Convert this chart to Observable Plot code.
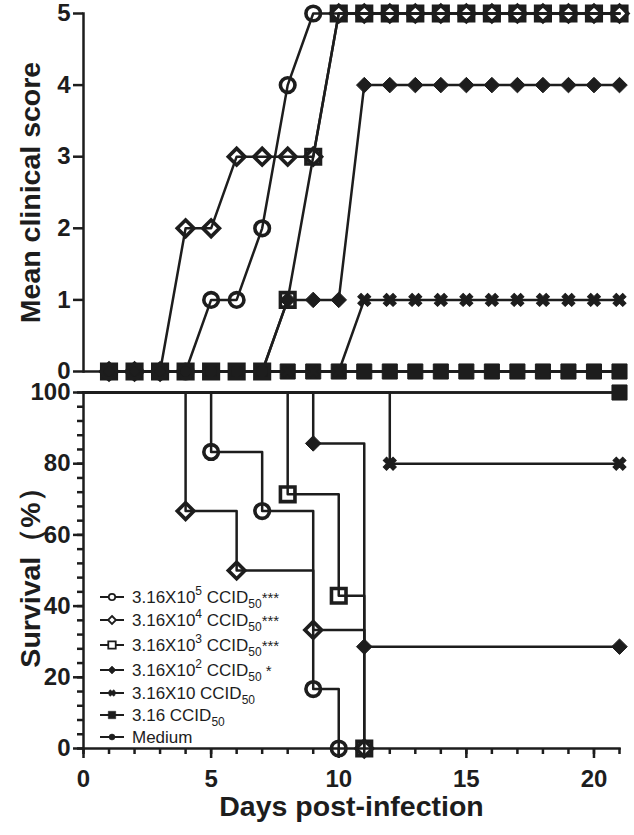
<!DOCTYPE html>
<html>
<head>
<meta charset="utf-8">
<script src="https://cdn.jsdelivr.net/npm/d3@7"></script>
<script src="https://cdn.jsdelivr.net/npm/@observablehq/plot@0.6"></script>
<style>
  html, body { margin: 0; padding: 0; background: #fff; }
  #chart svg { display: block; }
</style>
</head>
<body>
<div id="chart"></div>
<script>
// ---------------- data ----------------
const groups = ["3.16X10^5 CCID50", "3.16X10^4 CCID50", "3.16X10^3 CCID50", "3.16X10^2 CCID50", "3.16X10 CCID50", "3.16 CCID50", "Medium"];

// Mean clinical score, days 1..21
const days = [1,2,3,4,5,6,7,8,9,10,11,12,13,14,15,16,17,18,19,20,21];
const score1e5 = [0,0,0,0,1,1,2,4,5,5,5,5,5,5,5,5,5,5,5,5,5];
const score1e4 = [0,0,0,2,2,3,3,3,3,5,5,5,5,5,5,5,5,5,5,5,5];
const score1e3 = [0,0,0,0,0,0,0,1,3,5,5,5,5,5,5,5,5,5,5,5,5];
const score1e2 = [0,0,0,0,0,0,0,1,1,1,4,4,4,4,4,4,4,4,4,4,4];
const score1e1 = [0,0,0,0,0,0,0,0,0,0,1,1,1,1,1,1,1,1,1,1,1];
const score1e0 = [0,0,0,0,0,0,0,0,0,0,0,0,0,0,0,0,0,0,0,0,0];
const scoreMed = [0,0,0,0,0,0,0,0,0,0,0,0,0,0,0,0,0,0,0,0,0];

// Survival (%), Kaplan-Meier steps
const survDays1e5 = [0,5,7,9,10];   const surv1e5 = [100,83.3,66.7,16.7,0];
const survDays1e4 = [0,4,6,9,11];   const surv1e4 = [100,66.7,50,33.3,0];
const survDays1e3 = [0,8,10,11];    const surv1e3 = [100,71.4,42.9,0];
const survDays1e2 = [0,9,11,21];    const surv1e2 = [100,85.7,28.6,28.6];
const survDays1e1 = [0,12,21];      const surv1e1 = [100,80,80];
const survDays1e0 = [0,21];         const surv1e0 = [100,100];
const survDaysMed = [0,21];         const survMed = [100,100];

// ticks
const scoreTicks = [0,1,2,3,4,5];
const survTicks = [0,20,40,60,80,100];
const survMinorTicks = [0,4,8,12,16,20,24,28,32,36,40,44,48,52,56,60,64,68,72,76,80,84,88,92,96,100];
const dayTicks = [0,5,10,15,20];
const dayMinorTicks = [0,1,2,3,4,5,6,7,8,9,10,11,12,13,14,15,16,17,18,19,20,21];

// legend text pieces
const legendBase = ["3.16X10", "3.16X10", "3.16X10", "3.16X10", "3.16X10 CCID", "3.16 CCID", "Medium"];
const legendSup  = ["5", "4", "3", "2", "", "", ""];
const legendSub  = ["50", "50", "50", "50", "50", "50", ""];
const legendStar = ["***", "***", "***", " *", "", "", ""];

// ---------------- styling ----------------
const ink = "#1d1d1d";
const symbols = ["circle", "diamond2", "square", "diamond2", "cross", "square", "circle"];
const fills   = ["none", "none", "none", ink, ink, ink, ink];
const radii   = [7.3, 7.5, 8.2, 7, 5.8, 8.5, 4];
const rotates = [0, 0, 0, 0, 45, 0, 0];
const font = "'Liberation Sans', Arial, Helvetica, sans-serif";

const scoreSeries = [score1e5, score1e4, score1e3, score1e2, score1e1, score1e0, scoreMed];
const survDaySeries = [survDays1e5, survDays1e4, survDays1e3, survDays1e2, survDays1e1, survDays1e0, survDaysMed];
const survSeries = [surv1e5, surv1e4, surv1e3, surv1e2, surv1e1, surv1e0, survMed];

const scoreRows = groups.map((g, i) => days.map((d, j) => ({group: g, gi: i, day: d, value: scoreSeries[i][j]})));
const survRows = groups.map((g, i) => survDaySeries[i].map((d, j) => ({group: g, gi: i, day: d, value: survSeries[i][j]})));

function dotMarks(rowsList, filterFn) {
  const order = [6,5,4,3,2,1,0];
  return order.map(i => Plot.dot(rowsList[i].filter(filterFn), {
    x: "day", y: "value",
    symbol: symbols[i], r: radii[i], rotate: rotates[i],
    fill: fills[i],
    stroke: ink,
    strokeWidth: fills[i] === "none" ? 3.6 : 1
  }));
}

// ---------------- top: clinical score ----------------
const topPlot = Plot.plot({
  width: 634, height: 382,
  marginTop: 13, marginBottom: 11, marginLeft: 83, marginRight: 15,
  style: {fontFamily: font, fontSize: "24px", fontWeight: "bold", color: ink, background: "white", overflow: "visible"},
  x: {domain: [0, 21], axis: null},
  y: {domain: [0, 5], axis: null},
  marks: [
    Plot.ruleY([0], {stroke: ink, strokeWidth: 2.5}),
    Plot.frame({anchor: "left", stroke: ink, strokeWidth: 2.5}),
    Plot.axisY({ticks: scoreTicks, tickSize: 10, tickPadding: 3, tickFormat: d3.format("d"), strokeWidth: 2.5, label: null}),
    Plot.text(["Mean clinical score"], {text: d => d, frameAnchor: "left", textAnchor: "middle", dx: -53, rotate: -90, fontSize: 28.5, fontWeight: "bold", fill: ink}),
    ...[6,5,4,3,2,1,0].map(i => Plot.line(scoreRows[i], {x: "day", y: "value", stroke: ink, strokeWidth: 2.5})),
    ...dotMarks(scoreRows, () => true)
  ]
});

// ---------------- bottom: survival ----------------
const botPlot = Plot.plot({
  width: 634, height: 453,
  marginTop: 10, marginBottom: 87, marginLeft: 83, marginRight: 15,
  style: {fontFamily: font, fontSize: "24px", fontWeight: "bold", color: ink, background: "white", overflow: "visible"},
  x: {domain: [0, 21]},
  y: {domain: [0, 100]},
  marks: [
    Plot.frame({anchor: "left", stroke: ink, strokeWidth: 2.5}),
    Plot.frame({anchor: "bottom", stroke: ink, strokeWidth: 2.5}),
    Plot.axisY({ticks: survMinorTicks, tickSize: 6, strokeWidth: 2.5, fill: "none", label: null}),
    Plot.axisY({ticks: survTicks, tickSize: 10, tickPadding: 3, tickFormat: d3.format("d"), strokeWidth: 2.5, label: null}),
    Plot.axisX({ticks: dayMinorTicks, tickSize: 6, strokeWidth: 2.5, fill: "none", label: null}),
    Plot.axisX({ticks: dayTicks, tickSize: 10, tickPadding: 11, tickFormat: d3.format("d"), strokeWidth: 2.5, label: null}),
    Plot.text(["Survival（%）"], {text: d => d, frameAnchor: "left", textAnchor: "middle", dx: -53, rotate: -90, fontSize: 28.5, fontWeight: "bold", fill: ink}),
    Plot.text(["Days post-infection"], {text: d => d, frameAnchor: "bottom", textAnchor: "middle", dy: 67, fontSize: 28.5, fontWeight: "bold", fill: ink}),
    ...[6,5,4,3,2,1,0].map(i => Plot.line(survRows[i], {x: "day", y: "value", curve: "step-after", stroke: ink, strokeWidth: 2.5})),
    ...dotMarks(survRows, d => d.day > 0)
  ]
});

const chart = document.getElementById("chart");
chart.appendChild(topPlot);
chart.appendChild(botPlot);

// ---------------- legend (inside survival panel) ----------------
const legendRowY = [597, 620, 645, 670, 693, 715, 737].map(y => y - 382);
const lg = d3.select(botPlot).append("g").attr("class", "legend").attr("text-anchor", "start");
const legSizes = [3.2, 3.6, 4.2, 3.6, 3.0, 4.2, 3.0];
groups.forEach((g, i) => {
  const y = legendRowY[i];
  const row = lg.append("g");
  row.append("line").attr("x1", 100).attr("x2", 124).attr("y1", y).attr("y2", y)
    .attr("stroke", ink).attr("stroke-width", 2);
  const sym = {circle: d3.symbolCircle, diamond2: d3.symbolDiamond2, square: d3.symbolSquare, cross: d3.symbolCross}[symbols[i]];
  const r = legSizes[i];
  row.append("path")
    .attr("d", d3.symbol(sym, r * r * Math.PI)())
    .attr("transform", `translate(112,${y}) rotate(${rotates[i]})`)
    .attr("fill", fills[i] === "none" ? "white" : ink)
    .attr("stroke", ink)
    .attr("stroke-width", fills[i] === "none" ? 1.8 : 0.5);
  const t = row.append("text")
    .attr("x", 132).attr("y", y + 6)
    .attr("text-anchor", "start")
    .attr("font-family", font).attr("font-size", 17).attr("font-weight", "normal")
    .attr("fill", ink);
  t.append("tspan").text(legendBase[i]);
  let shift = 0;
  if (legendSup[i]) {
    t.append("tspan").attr("font-size", 12).attr("dy", -8).text(legendSup[i]);
    t.append("tspan").attr("dy", 8).text(" CCID");
  }
  if (legendSub[i]) {
    t.append("tspan").attr("font-size", 12).attr("dy", 5).text(legendSub[i]);
    shift = -5;
  }
  if (legendStar[i]) {
    t.append("tspan").attr("font-size", 15).attr("dy", shift).text(legendStar[i]);
  }
});
</script>
</body>
</html>
